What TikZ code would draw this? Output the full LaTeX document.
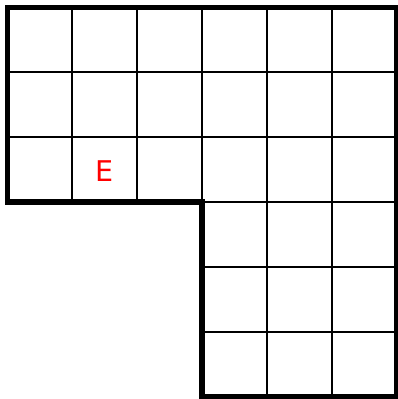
\documentclass[tikz,border=0pt]{standalone}
\usepackage{fontspec}
\usepackage{xcolor}
\usepackage{tikz}
\newfontfamily\gridfont{DejaVu Sans}
\definecolor{markred}{RGB}{255, 0, 0}

\begin{document}
\begin{tikzpicture}[
  cellline/.style={black, line width=0.87pt},
  outline/.style={black, line width=2.2pt, line join=miter},
  letter/.style={text=markred, font=\gridfont\fontsize{12.5}{14}\selectfont}
]
  \useasboundingbox (-0.108,-0.031) rectangle (6.015,6.108);

  % inner lines of the upper block
  \foreach \y in {4,5} \draw[cellline] (0,\y) -- (6,\y);
  \foreach \x in {1,2} \draw[cellline] (\x,3) -- (\x,6);
  % inner lines of the right block
  \foreach \y in {1,2,3} \draw[cellline] (3,\y) -- (6,\y);
  \draw[cellline] (3,3) -- (3,6);
  \foreach \x in {4,5} \draw[cellline] (\x,0) -- (\x,6);

  % border
  \draw[outline] (0,6) -- (6,6) -- (6,0) -- (3,0) -- (3,3) -- (0,3) -- cycle;

  \node[letter] (e) at (1.5,3.47) {E};
\end{tikzpicture}
\end{document}
